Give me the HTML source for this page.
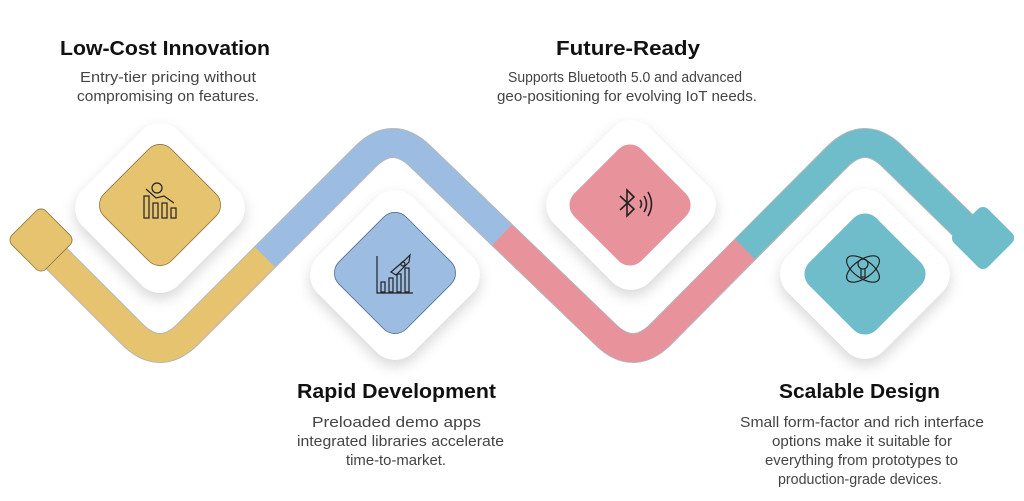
<!DOCTYPE html>
<html><head><meta charset="utf-8"><style>
html,body{margin:0;padding:0;background:#fff;}
svg{display:block;font-family:"Liberation Sans",Arial,sans-serif;}
</style></head><body>
<svg width="1024" height="501" viewBox="0 0 1024 501" xmlns="http://www.w3.org/2000/svg">
<defs>
<filter id="sh" x="-40%" y="-40%" width="180%" height="180%">
<feDropShadow dx="0" dy="6" stdDeviation="7" flood-color="#000" flood-opacity="0.16"/>
</filter>
</defs>
<path d="M42 244 L132 334 Q160 362 188 334 L365 157 Q393 129 421 157 L605 334 Q633 362 661 334 L837 157 Q865 129 893 157 L980 242" fill="none" stroke="#7a7a7a" stroke-width="30" stroke-opacity="0.55"/>
<path d="M42 244 L132 334 Q160 362 188 334 L265 257" fill="none" stroke="#E6C36F" stroke-width="28"/>
<path d="M265 257 L365 157 Q393 129 421 157 L502 235" fill="none" stroke="#9DBCE2" stroke-width="28"/>
<path d="M502 235 L605 334 Q633 362 661 334 L745 249" fill="none" stroke="#E8929B" stroke-width="28"/>
<path d="M745 249 L837 157 Q865 129 893 157 L980 242" fill="none" stroke="#6FBCCB" stroke-width="28"/>
<rect x="17" y="216" width="48" height="48" rx="7" transform="rotate(45 41 240)" fill="#E6C36F" stroke="#8a7440" stroke-width="0.8"/>
<rect x="959" y="214" width="48" height="48" rx="7" transform="rotate(45 983 238)" fill="#6FBCCB"/>
<g filter="url(#sh)">
<rect x="92.5" y="140.5" width="135" height="135" rx="26" transform="rotate(45 160 208)" fill="#fff"/>
<rect x="327.5" y="207.5" width="135" height="135" rx="26" transform="rotate(45 395 275)" fill="#fff"/>
<rect x="563.5" y="137.5" width="135" height="135" rx="26" transform="rotate(45 631 205)" fill="#fff"/>
<rect x="797.5" y="206.5" width="135" height="135" rx="26" transform="rotate(45 865 274)" fill="#fff"/>
</g>
<rect x="112.5" y="157.5" width="95" height="95" rx="16" transform="rotate(45 160 205)" fill="#E6C36F" stroke="#8a7440" stroke-width="0.8"/>
<rect x="347.5" y="225.5" width="95" height="95" rx="16" transform="rotate(45 395 273)" fill="#9DBCE2" stroke="#4f6a8e" stroke-width="0.8"/>
<rect x="582.5" y="157.5" width="95" height="95" rx="16" transform="rotate(45 630 205)" fill="#E8929B"/>
<rect x="817.5" y="226.5" width="95" height="95" rx="16" transform="rotate(45 865 274)" fill="#6FBCCB"/>
<g fill="none" stroke="#222" stroke-width="1.2">
<rect x="144" y="196" width="5" height="22"/><rect x="153" y="203" width="5" height="15"/><rect x="162" y="203" width="5" height="15"/><rect x="171" y="208" width="5" height="10"/>
<path d="M146 189 L156 198 L164 196 L174 203"/>
<circle cx="157" cy="188" r="5"/>
<path d="M377 256 L377 293 L413 293"/>
<rect x="381" y="282" width="4" height="10"/><rect x="389" y="278" width="4" height="14"/><rect x="397" y="274" width="4" height="18"/><rect x="405" y="268" width="4" height="24"/>
<path d="M391 272 L405 260 L410 255 L409 262 L396 275 Z"/><circle cx="403" cy="264" r="2"/>
<path d="M620 196 L634 209 L627 216 L627 190 L634 197 L620 210" stroke-width="1.6"/>
<path d="M640 200 Q643 204 640 208 M644 196 Q649 204 644 212 M648 192 Q655 204 648 216" stroke-width="1.6"/>
<ellipse cx="863" cy="269" rx="19" ry="9" transform="rotate(35 863 269)"/>
<ellipse cx="863" cy="269" rx="19" ry="9" transform="rotate(-35 863 269)"/>
<circle cx="863" cy="264" r="5"/><path d="M861 269 L861 277 L865 277 L865 269"/>
</g>
<g fill="#111" font-weight="bold" font-size="20">
<text x="60" y="55" textLength="210" lengthAdjust="spacingAndGlyphs">Low-Cost Innovation</text>
<text x="556" y="55" textLength="144" lengthAdjust="spacingAndGlyphs">Future-Ready</text>
<text x="297" y="398" textLength="199" lengthAdjust="spacingAndGlyphs">Rapid Development</text>
<text x="779" y="398" textLength="161" lengthAdjust="spacingAndGlyphs">Scalable Design</text>
</g>
<g fill="#444" font-size="14.5">
<text x="80" y="82" textLength="176" lengthAdjust="spacingAndGlyphs">Entry-tier pricing without</text>
<text x="77" y="101" textLength="182" lengthAdjust="spacingAndGlyphs">compromising on features.</text>
<text x="508" y="82" textLength="234" lengthAdjust="spacingAndGlyphs">Supports Bluetooth 5.0 and advanced</text>
<text x="497" y="101" textLength="260" lengthAdjust="spacingAndGlyphs">geo-positioning for evolving IoT needs.</text>
<text x="312" y="427" textLength="169" lengthAdjust="spacingAndGlyphs">Preloaded demo apps</text>
<text x="297" y="446" textLength="207" lengthAdjust="spacingAndGlyphs">integrated libraries accelerate</text>
<text x="346" y="465" textLength="100" lengthAdjust="spacingAndGlyphs">time-to-market.</text>
<text x="740" y="427" textLength="244" lengthAdjust="spacingAndGlyphs">Small form-factor and rich interface</text>
<text x="772" y="446" textLength="180" lengthAdjust="spacingAndGlyphs">options make it suitable for</text>
<text x="765" y="465" textLength="193" lengthAdjust="spacingAndGlyphs">everything from prototypes to</text>
<text x="778" y="484" textLength="164" lengthAdjust="spacingAndGlyphs">production-grade devices.</text>
</g>
</svg>
</body></html>
